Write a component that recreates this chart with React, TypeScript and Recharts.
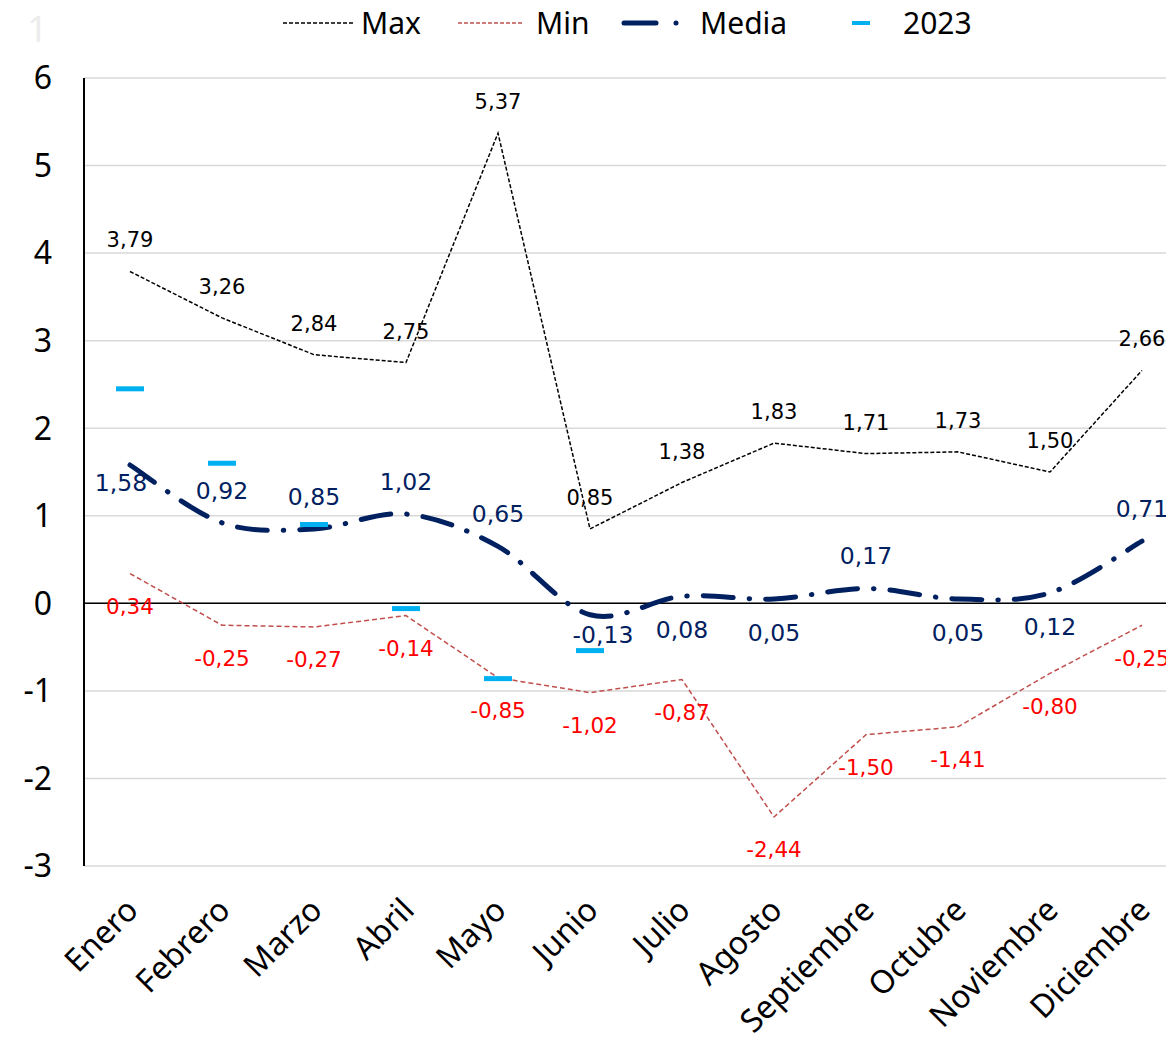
import React from "react";
import {
  ComposedChart,
  Line,
  XAxis,
  YAxis,
  CartesianGrid,
  ReferenceLine,
  LabelList,
} from "recharts";

const months = [
  "Enero",
  "Febrero",
  "Marzo",
  "Abril",
  "Mayo",
  "Junio",
  "Julio",
  "Agosto",
  "Septiembre",
  "Octubre",
  "Noviembre",
  "Diciembre",
];
const maxValues = [3.79, 3.26, 2.84, 2.75, 5.37, 0.85, 1.38, 1.83, 1.71, 1.73, 1.5, 2.66];
const minValues = [0.34, -0.25, -0.27, -0.14, -0.85, -1.02, -0.87, -2.44, -1.5, -1.41, -0.8, -0.25];
const mediaValues = [1.58, 0.92, 0.85, 1.02, 0.65, -0.13, 0.08, 0.05, 0.17, 0.05, 0.12, 0.71];
const values2023 = [2.45, 1.6, 0.9, -0.06, -0.86, -0.54, null, null, null, null, null, null];
const yTicks = [-3, -2, -1, 0, 1, 2, 3, 4, 5, 6];

// where each Media label sits relative to its point [dx, dy]
const mediaLabelOffset = [
  [-9, 18], [0, -32], [0, -32], [0, -32], [0, -32], [13, 20],
  [0, 34], [0, 34], [0, -32], [0, 34], [0, 34], [0, -32],
];

const data = months.map((m, i) => ({
  month: m,
  max: maxValues[i],
  min: minValues[i],
  media: mediaValues[i],
  y2023: values2023[i],
}));

const NAVY = "#002060";
const CYAN = "#00B0F0";
const MIN_LINE = "#C0504D";
const LABEL_FONT = "'DejaVu Sans', Verdana, sans-serif";
const AXIS_FONT = "'Noto Sans', 'Open Sans', sans-serif";

const fmt = (v: number) => v.toFixed(2).replace(".", ",");

// Excel-style smoothed line (Catmull-Rom through the points)
const smoothCurve = (context: any) => {
  let pts: [number, number][] = [];
  return {
    areaStart() {},
    areaEnd() {},
    lineStart() {
      pts = [];
    },
    point(x: number, y: number) {
      pts.push([+x, +y]);
    },
    lineEnd() {
      if (!pts.length) return;
      context.moveTo(pts[0][0], pts[0][1]);
      for (let i = 0; i < pts.length - 1; i++) {
        const p0 = pts[Math.max(i - 1, 0)];
        const p1 = pts[i];
        const p2 = pts[i + 1];
        const p3 = pts[Math.min(i + 2, pts.length - 1)];
        context.bezierCurveTo(
          p1[0] + (p2[0] - p0[0]) / 6,
          p1[1] + (p2[1] - p0[1]) / 6,
          p2[0] - (p3[0] - p1[0]) / 6,
          p2[1] - (p3[1] - p1[1]) / 6,
          p2[0],
          p2[1]
        );
      }
    },
  };
};

const XTick = (props: any) => {
  const { x, y, payload } = props;
  const ax = x + 10;
  const ay = y + 38;
  return (
    <text
      x={ax}
      y={ay}
      textAnchor="end"
      transform={`rotate(-45, ${ax}, ${ay})`}
      fontFamily={AXIS_FONT}
      fontSize={32}
      fill="#000"
    >
      {payload.value}
    </text>
  );
};

const makeLabel =
  (color: string, size: number, dyFn: (i: number) => [number, number]) =>
  (props: any) => {
    const { x, y, value, index } = props;
    if (value === null || value === undefined) return null;
    const [dx, dy] = dyFn(index);
    return (
      <text
        x={x + dx}
        y={y + dy}
        textAnchor="middle"
        dominantBaseline="central"
        fontFamily={LABEL_FONT}
        fontSize={size}
        fill={color}
      >
        {fmt(Number(value))}
      </text>
    );
  };

const Dash2023 = (props: any) => {
  const { cx, cy, value } = props;
  if (value === null || value === undefined || cy == null) return null;
  return <rect x={cx - 14} y={cy - 2.5} width={28} height={5} fill={CYAN} />;
};

const LegendBox = () => (
  <svg
    width={1166}
    height={50}
    style={{ position: "absolute", left: 0, top: 0, display: "block" }}
  >
    <text x={27} y={42} fontFamily={AXIS_FONT} fontSize={36} fill="#ececec">
      1
    </text>
    <line x1={283} y1={23} x2={353} y2={23} stroke="#000" strokeWidth={1.5} strokeDasharray="4 2" />
    <text x={361} y={34} fontFamily={AXIS_FONT} fontSize={30} fill="#000">
      Max
    </text>
    <line x1={458} y1={23} x2={523} y2={23} stroke={MIN_LINE} strokeWidth={1.5} strokeDasharray="4 2" />
    <text x={536} y={34} fontFamily={AXIS_FONT} fontSize={30} fill="#000">
      Min
    </text>
    <line x1={624} y1={23} x2={656} y2={23} stroke={NAVY} strokeWidth={5} strokeLinecap="round" />
    <circle cx={676} cy={23} r={2.5} fill={NAVY} />
    <text x={700} y={34} fontFamily={AXIS_FONT} fontSize={30} fill="#000">
      Media
    </text>
    <rect x={852} y={21} width={18} height={4} fill={CYAN} />
    <text x={903} y={34} fontFamily={AXIS_FONT} fontSize={30} fill="#000">
      2023
    </text>
  </svg>
);

export default function App() {
  return (
    <div
      style={{
        position: "absolute",
        left: 0,
        top: 0,
        width: 1166,
        height: 1039,
        overflow: "hidden",
        background: "#fff",
      }}
    >
      <ComposedChart
        width={1188}
        height={1039}
        data={data}
        margin={{ top: 78, right: 0, bottom: 0, left: 0 }}
      >
        <CartesianGrid horizontal vertical={false} stroke="#d9d9d9" strokeWidth={1.5} />
        <XAxis
          dataKey="month"
          axisLine={false}
          tickLine={false}
          interval={0}
          height={173}
          padding={{ left: 46, right: 46 }}
          tick={<XTick />}
        />
        <YAxis
          domain={[-3, 6]}
          ticks={yTicks}
          width={84}
          axisLine={{ stroke: "#000", strokeWidth: 2 }}
          tickLine={false}
          tickMargin={26}
          tick={{ fontFamily: AXIS_FONT, fontSize: 32, fill: "#000" }}
          interval={0}
        />
        <ReferenceLine y={0} stroke="#000" strokeWidth={1.5} />
        <Line
          dataKey="max"
          type="linear"
          stroke="#000"
          strokeWidth={1.5}
          strokeDasharray="4 2"
          dot={false}
          isAnimationActive={false}
        >
          <LabelList dataKey="max" content={makeLabel("#000", 21, () => [0, -31])} />
        </Line>
        <Line
          dataKey="min"
          type="linear"
          stroke={MIN_LINE}
          strokeWidth={1.5}
          strokeDasharray="5 3"
          dot={false}
          isAnimationActive={false}
        >
          <LabelList dataKey="min" content={makeLabel("#FF0000", 21.5, () => [0, 33])} />
        </Line>
        <Line
          dataKey="media"
          type={smoothCurve as any}
          stroke={NAVY}
          strokeWidth={5}
          strokeLinecap="round"
          strokeDasharray="30 16 0.5 16"
          dot={false}
          isAnimationActive={false}
        >
          <LabelList
            dataKey="media"
            content={makeLabel(NAVY, 23.5, (i) => mediaLabelOffset[i] as [number, number])}
          />
        </Line>
        <Line
          dataKey="y2023"
          stroke="none"
          dot={<Dash2023 />}
          activeDot={false}
          connectNulls={false}
          isAnimationActive={false}
        />
      </ComposedChart>
      <LegendBox />
    </div>
  );
}
